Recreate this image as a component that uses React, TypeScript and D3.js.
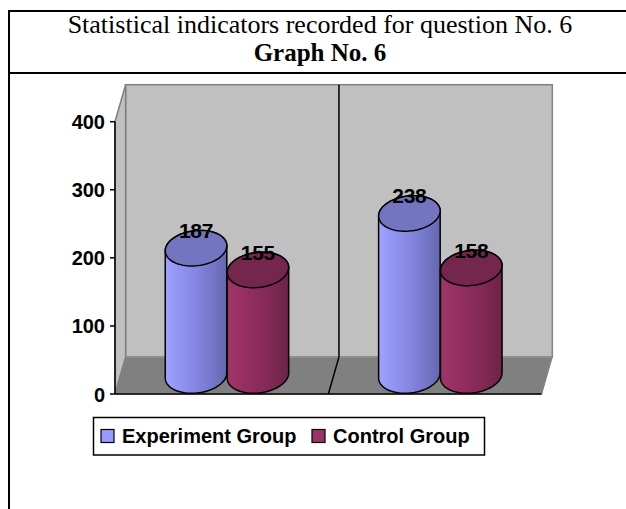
import React from "react";
import * as d3 from "d3";

// Chart data
const categories = ["Q6-A", "Q6-B"];
const seriesNames = ["Experiment Group", "Control Group"];
const experimentValues = [187, 238];
const controlValues = [155, 158];
const tickValues = [0, 100, 200, 300, 400];

const titleLine1 = "Statistical indicators recorded for question No. 6";
const titleLine2 = "Graph No. 6";

const W = 626;
const H = 509;

// Front plane of the 3D box
const FRONT_LEFT = 115;
const FRONT_RIGHT = 541.7;
const Y_ZERO = 394;
const Y_MAX = 121.7;
// Depth offset from front to back wall
const DEPTH_DX = 10.6;
const DEPTH_DY = -37;

const SANS = "'Liberation Sans', Arial, Helvetica, sans-serif";
const SERIF = "'Liberation Serif', 'Times New Roman', Times, serif";

const seriesStyles = [
  {
    id: "gradExp",
    stops: [
      ["0%", "#9FA2FF"],
      ["20%", "#9396F4"],
      ["50%", "#8486E0"],
      ["80%", "#7375C6"],
      ["100%", "#6466AC"],
    ],
    top: "#7375C0",
    swatch: "#9999FF",
  },
  {
    id: "gradCtl",
    stops: [
      ["0%", "#A03468"],
      ["30%", "#952F60"],
      ["65%", "#842A56"],
      ["100%", "#6C2347"],
    ],
    top: "#74264D",
    swatch: "#993366",
  },
];

function ellipsePt(cx: number, cy: number, rx: number, ry: number, th: number, t: number): [number, number] {
  return [
    cx + rx * Math.cos(t) * Math.cos(th) - ry * Math.sin(t) * Math.sin(th),
    cy + rx * Math.cos(t) * Math.sin(th) + ry * Math.sin(t) * Math.cos(th),
  ];
}

function arcPts(cx: number, cy: number, rx: number, ry: number, th: number, a: number, b: number, n = 40) {
  const pts: [number, number][] = [];
  for (let i = 0; i <= n; i++) {
    const t = a + ((b - a) * i) / n;
    pts.push(ellipsePt(cx, cy, rx, ry, th, t));
  }
  return pts;
}

function Cylinder({ cx, topY, botY, rx, ry, style, label }: any) {
  const th = (-7 * Math.PI) / 180;
  const t0 = Math.atan2(-ry * Math.sin(th), rx * Math.cos(th));
  const bottomArc = arcPts(cx, botY, rx, ry, th, t0 + Math.PI, t0);
  const topArc = arcPts(cx, topY, rx, ry, th, t0, t0 - Math.PI);
  const body = [ellipsePt(cx, topY, rx, ry, th, t0 + Math.PI), ...bottomArc, ...topArc];
  const line = d3.line().curve(d3.curveLinear);
  const topFull = arcPts(cx, topY, rx, ry, th, 0, 2 * Math.PI, 72);
  return (
    <g>
      <path d={line(body as any) + "Z"} fill={`url(#${style.id})`} stroke="#000" strokeWidth={1.5} strokeLinejoin="round" />
      <path d={line(topFull as any) + "Z"} fill={style.top} stroke="#000" strokeWidth={1.5} />
      <text
        x={cx}
        y={topY - 10}
        textAnchor="middle"
        fontFamily={SANS}
        fontWeight="bold"
        fontSize={21}
        letterSpacing={-0.3}
        fill="#000"
      >
        {label}
      </text>
    </g>
  );
}

export default function App() {
  const y = d3.scaleLinear().domain([0, 400]).range([Y_ZERO, Y_MAX]);
  // Mid-depth plane where the cylinders sit
  const midDx = DEPTH_DX / 2;
  const midDy = DEPTH_DY / 2;
  const xCat = d3
    .scaleBand<string>()
    .domain(categories)
    .range([FRONT_LEFT + midDx, FRONT_RIGHT + midDx])
    .padding(0);
  const bw = xCat.bandwidth();
  const xSer = d3
    .scaleBand<string>()
    .domain(seriesNames)
    .range([bw * 0.21, bw * 0.79])
    .padding(0);
  const rx = xSer.bandwidth() / 2;
  const ry = 17.5;

  const backL = FRONT_LEFT + DEPTH_DX;
  const backR = FRONT_RIGHT + DEPTH_DX;
  const backTop = Y_MAX + DEPTH_DY;
  const backBot = Y_ZERO + DEPTH_DY;

  const values = [experimentValues, controlValues];

  return (
    <svg width={W} height={H} style={{ position: "absolute", left: 0, top: 0, background: "#fff" }}>
      <defs>
        {seriesStyles.map((s) => (
          <linearGradient key={s.id} id={s.id} x1="0" y1="0" x2="1" y2="0">
            {s.stops.map(([o, c]) => (
              <stop key={o} offset={o} stopColor={c} />
            ))}
          </linearGradient>
        ))}
      </defs>

      {/* Table frame */}
      <line x1={9} y1={10} x2={9} y2={H} stroke="#000" strokeWidth={2} />
      <line x1={8} y1={11} x2={W} y2={11} stroke="#000" strokeWidth={2} />
      <line x1={8} y1={73} x2={W} y2={73} stroke="#000" strokeWidth={2} />
      <text x={320} y={33} textAnchor="middle" fontFamily={SERIF} fontSize={26} fill="#000">
        {titleLine1}
      </text>
      <text x={320} y={61} textAnchor="middle" fontFamily={SERIF} fontSize={25} fontWeight="bold" fill="#000">
        {titleLine2}
      </text>

      {/* Back wall */}
      <rect x={backL} y={backTop} width={backR - backL} height={backBot - backTop} fill="#C0C0C0" stroke="#808080" strokeWidth={1.5} />
      {/* Side wall */}
      <polygon
        points={`${FRONT_LEFT},${Y_ZERO} ${FRONT_LEFT},${Y_MAX} ${backL},${backTop} ${backL},${backBot}`}
        fill="#C0C0C0"
        stroke="#808080"
        strokeWidth={1.5}
      />
      {/* Floor */}
      <polygon
        points={`${FRONT_LEFT},${Y_ZERO} ${backL},${backBot} ${backR},${backBot} ${FRONT_RIGHT},${Y_ZERO}`}
        fill="#808080"
        stroke="#808080"
        strokeWidth={1}
      />
      <line x1={backL} y1={backBot} x2={backR} y2={backBot} stroke="#999" strokeWidth={1} />
      <line x1={FRONT_LEFT} y1={Y_ZERO} x2={FRONT_RIGHT} y2={Y_ZERO} stroke="#000" strokeWidth={1.5} />

      {/* Category divider */}
      {categories.slice(1).map((c) => {
        const bx = (xCat(c) as number) + midDx;
        return (
          <g key={c}>
            <line x1={bx} y1={backTop} x2={bx} y2={backBot} stroke="#000" strokeWidth={1.5} />
            <line x1={bx} y1={backBot} x2={bx - DEPTH_DX} y2={Y_ZERO} stroke="#000" strokeWidth={1.5} />
          </g>
        );
      })}

      {/* Value axis */}
      <line x1={FRONT_LEFT} y1={Y_MAX} x2={FRONT_LEFT} y2={Y_ZERO} stroke="#000" strokeWidth={1.5} />
      {tickValues.map((t) => (
        <g key={t}>
          <line x1={FRONT_LEFT - 5} x2={FRONT_LEFT} y1={y(t)} y2={y(t)} stroke="#000" strokeWidth={1.5} />
          <text
            x={105}
            y={y(t) + 7.5}
            textAnchor="end"
            fontFamily={SANS}
            fontWeight="bold"
            fontSize={20}
            fill="#000"
          >
            {t}
          </text>
        </g>
      ))}

      {/* Cylinders */}
      {categories.map((c, ci) =>
        seriesNames.map((s, si) => {
          const v = values[si][ci];
          const cx = (xCat(c) as number) + (xSer(s) as number) + rx;
          return (
            <Cylinder
              key={c + s}
              cx={cx}
              topY={y(v) + midDy}
              botY={Y_ZERO + midDy}
              rx={rx}
              ry={ry}
              style={seriesStyles[si]}
              label={v}
            />
          );
        })
      )}

      {/* Legend */}
      <rect x={93.5} y={417.5} width={391} height={37.5} fill="#fff" stroke="#000" strokeWidth={1.5} />
      {seriesNames.map((s, i) => {
        const lx = i === 0 ? 101 : 312;
        return (
          <g key={s}>
            <rect x={lx} y={429.5} width={13} height={13} fill={seriesStyles[i].swatch} stroke="#000" strokeWidth={1.2} />
            <text x={lx + 21} y={443} fontFamily={SANS} fontWeight="bold" fontSize={20} fill="#000">
              {s}
            </text>
          </g>
        );
      })}
    </svg>
  );
}
